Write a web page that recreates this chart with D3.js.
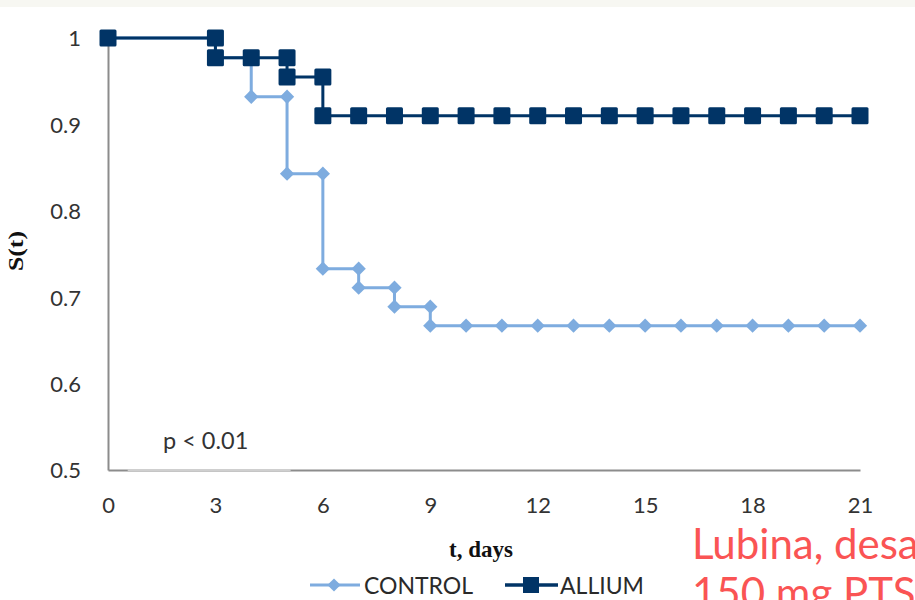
<!DOCTYPE html>
<html lang="en">
<head>
    <meta charset="UTF-8">
    <title>Survival</title>
    <script src="https://cdn.jsdelivr.net/npm/d3@7"></script>
    <style>
        body { margin: 0; background: #fff; }
        svg { display: block; }
    </style>
</head>
<body>
    <svg id="main" width="915" height="600"></svg>
    <script>
        // Kaplan-Meier points (each step listed twice: before and after the drop)
        const controlDays = [0, 3, 3, 4, 4, 5, 5, 6, 6, 7, 7, 8, 8, 9, 9, 10, 11, 12, 13, 14, 15, 16, 17, 18, 19, 20, 21];
        const controlS = [1, 1, 0.977, 0.977, 0.932, 0.932, 0.843, 0.843, 0.733, 0.733, 0.711, 0.711, 0.689, 0.689, 0.667,
            0.667, 0.667, 0.667, 0.667, 0.667, 0.667, 0.667, 0.667, 0.667, 0.667, 0.667, 0.667];
        const alliumDays = [0, 3, 3, 4, 5, 5, 6, 6, 7, 8, 9, 10, 11, 12, 13, 14, 15, 16, 17, 18, 19, 20, 21];
        const alliumS = [1, 1, 0.977, 0.977, 0.977, 0.955, 0.955, 0.91, 0.91, 0.91, 0.91, 0.91, 0.91, 0.91, 0.91,
            0.91, 0.91, 0.91, 0.91, 0.91, 0.91, 0.91, 0.91];
        const xTicks = [0, 3, 6, 9, 12, 15, 18, 21];
        const yTicks = [0.5, 0.6, 0.7, 0.8, 0.9, 1];

        const svg = d3.select('#main');
        const x = d3.scaleLinear().domain([0, 21]).range([108, 860]);
        const y = d3.scaleLinear().domain([0.5, 1]).range([470, 38]);

        // faint strip along the top
        svg.append('rect').attr('x', 0).attr('y', 0).attr('width', 915).attr('height', 7).attr('fill', '#f7f7f2');

        // axes
        const yAxis = svg.append('g').attr('transform', 'translate(108,0)')
            .call(d3.axisLeft(y).tickValues(yTicks).tickFormat(d3.format('')).tickSize(0).tickPadding(27));
        yAxis.select('.domain').attr('stroke', '#8c8c8c').attr('stroke-width', 2);

        const xAxis = svg.append('g').attr('transform', 'translate(0,470)')
            .call(d3.axisBottom(x).tickValues(xTicks).tickSize(0).tickPadding(27));
        xAxis.select('.domain').attr('stroke', '#8c8c8c').attr('stroke-width', 2);
        // lighter stretch of the x axis line as in the scan
        svg.append('line')
            .attr('x1', x(0.55)).attr('x2', x(5.1)).attr('y1', 470).attr('y2', 470)
            .attr('stroke', '#cfcfcf').attr('stroke-width', 2);

        svg.selectAll('.tick text')
            .attr('font-family', 'Lato, sans-serif')
            .attr('font-size', 22)
            .attr('fill', '#333');
        yAxis.selectAll('.tick text').attr('dy', '0.36em');

        // series
        const line = d3.line().x(d => x(d[0])).y(d => y(d[1]));
        const control = controlDays.map((t, i) => [t, controlS[i]]);
        const allium = alliumDays.map((t, i) => [t, alliumS[i]]);

        const cCol = '#7eacdf';
        const aCol = '#013466';

        svg.append('path').datum(control)
            .attr('d', line).attr('fill', 'none').attr('stroke', cCol).attr('stroke-width', 3);
        svg.selectAll('.cm').data(control).enter().append('path')
            .attr('class', 'cm')
            .attr('d', d3.symbol().type(d3.symbolDiamond2).size(130))
            .attr('transform', d => `translate(${x(d[0])},${y(d[1])})`)
            .attr('fill', cCol);

        svg.append('path').datum(allium)
            .attr('d', line).attr('fill', 'none').attr('stroke', aCol).attr('stroke-width', 3);
        svg.selectAll('.am').data(allium).enter().append('rect')
            .attr('class', 'am')
            .attr('x', d => x(d[0]) - 8.5).attr('y', d => y(d[1]) - 8.5)
            .attr('width', 17).attr('height', 17).attr('rx', 1.5)
            .attr('fill', aCol);

        // labels
        svg.append('text')
            .attr('transform', 'translate(23,251) rotate(-90)')
            .attr('text-anchor', 'middle')
            .attr('font-family', '"Liberation Serif", serif')
            .attr('font-weight', 'bold').attr('font-size', 20)
            .attr('fill', '#111')
            .attr('textLength', 40).attr('lengthAdjust', 'spacingAndGlyphs')
            .text('S(t)');

        svg.append('text')
            .attr('x', 481).attr('y', 557)
            .attr('text-anchor', 'middle')
            .attr('font-family', '"Liberation Serif", serif')
            .attr('font-weight', 'bold').attr('font-size', 23)
            .attr('fill', '#111')
            .text('t, days');

        svg.append('text')
            .attr('x', 163).attr('y', 449)
            .attr('font-family', 'Lato, sans-serif')
            .attr('font-size', 23.5).attr('fill', '#333')
            .text('p < 0.01');

        // legend
        const leg = svg.append('g').attr('font-family', 'Lato, sans-serif').attr('font-size', 23).attr('fill', '#2a2a2a');
        leg.append('line').attr('x1', 310).attr('x2', 360).attr('y1', 585).attr('y2', 585)
            .attr('stroke', cCol).attr('stroke-width', 3);
        leg.append('path').attr('d', d3.symbol().type(d3.symbolDiamond2).size(110))
            .attr('transform', 'translate(334,585)').attr('fill', cCol);
        leg.append('text').attr('x', 364).attr('y', 594).text('CONTROL');
        leg.append('line').attr('x1', 505).attr('x2', 558).attr('y1', 585).attr('y2', 585)
            .attr('stroke', aCol).attr('stroke-width', 3.5);
        leg.append('rect').attr('x', 523).attr('y', 577).attr('width', 16).attr('height', 16).attr('fill', aCol);
        leg.append('text').attr('x', 560).attr('y', 594).text('ALLIUM');

        // overlay caption in red
        const cap = svg.append('text')
            .attr('font-family', 'Lato, sans-serif')
            .attr('font-size', 42).attr('fill', '#fa5454');
        cap.append('tspan').attr('x', 692).attr('y', 559).text('Lubina, desa');
        cap.append('tspan').attr('x', 692).attr('y', 608).text('150 mg PTS');
    </script>
</body>
</html>
